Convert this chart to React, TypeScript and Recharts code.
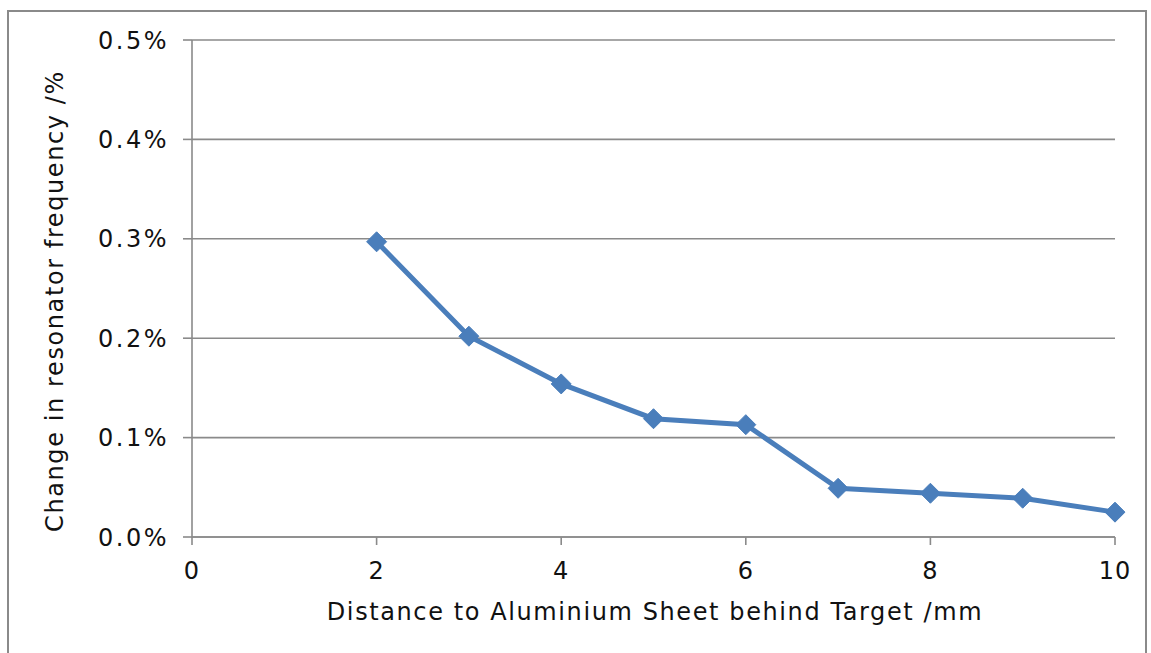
import React from 'react'
import { CartesianGrid, Line, LineChart, XAxis, YAxis } from 'recharts'

// distance to sheet (mm) and change in frequency (%)
const distances = [2, 3, 4, 5, 6, 7, 8, 9, 10]
const changes = [0.297, 0.202, 0.154, 0.119, 0.113, 0.049, 0.044, 0.039, 0.025]
const xTicks = [0, 2, 4, 6, 8, 10]
const yTicks = [0, 0.1, 0.2, 0.3, 0.4, 0.5]

const data = distances.map((d, i) => ({ distance: d, change: changes[i] }))

const FONT = '"DejaVu Sans", Verdana, sans-serif'
const BLUE = '#4a7ebb'
const GRAY = '#8a8a8a'

const Diamond = (props: any) => {
  const { cx, cy, index } = props
  if (cx == null || cy == null) return null
  const r = 10
  return (
    <path
      key={`dot-${index}`}
      d={`M${cx},${cy - r} L${cx + r},${cy} L${cx},${cy + r} L${cx - r},${cy} Z`}
      fill={BLUE}
      stroke={BLUE}
      strokeWidth={1}
    />
  )
}

function App() {
  return (
    <div style={{ position: 'absolute', left: 0, top: 0, width: 1151, height: 653, background: '#fff', overflow: 'hidden' }}>
      <div
        style={{
          position: 'absolute',
          left: 7,
          top: 10,
          width: 1140,
          height: 680,
          border: `2px solid ${GRAY}`,
          boxSizing: 'border-box',
        }}
      />
      <LineChart
        width={1151}
        height={653}
        data={data}
        margin={{ top: 40, right: 36, left: 0, bottom: 0 }}
        style={{ position: 'absolute', left: 0, top: 0 }}
      >
        <CartesianGrid vertical={false} stroke={GRAY} strokeWidth={1.6} />
        <XAxis
          dataKey="distance"
          type="number"
          domain={[0, 10]}
          ticks={xTicks}
          height={116}
          tickSize={8}
          tickMargin={17}
          stroke={GRAY}
          strokeWidth={1.6}
          tick={{ fill: '#111', fontSize: 24, fontFamily: FONT, letterSpacing: 1 }}
          label={{
            content: () => (
              <text x={655} y={620} textAnchor="middle" fontSize={24} letterSpacing={1.6} fontFamily={FONT} fill="#111">
                Distance to Aluminium Sheet behind Target /mm
              </text>
            ),
          }}
        />
        <YAxis
          type="number"
          domain={[0, 0.5]}
          ticks={yTicks}
          width={192}
          tickSize={9}
          tickMargin={14}
          stroke={GRAY}
          strokeWidth={1.6}
          tickFormatter={(v: number) => `${v.toFixed(1)}%`}
          tick={{ fill: '#111', fontSize: 24, fontFamily: FONT, letterSpacing: 2.5 }}
          label={{
            content: () => (
              <text
                x={63}
                y={301}
                transform="rotate(-90, 63, 301)"
                textAnchor="middle"
                fontSize={24}
                letterSpacing={1.6}
                fontFamily={FONT}
                fill="#111"
              >
                Change in resonator frequency /%
              </text>
            ),
          }}
        />
        <Line
          type="linear"
          dataKey="change"
          stroke={BLUE}
          strokeWidth={5}
          dot={Diamond}
          activeDot={false}
          isAnimationActive={false}
        />
      </LineChart>
    </div>
  )
}

export default App
